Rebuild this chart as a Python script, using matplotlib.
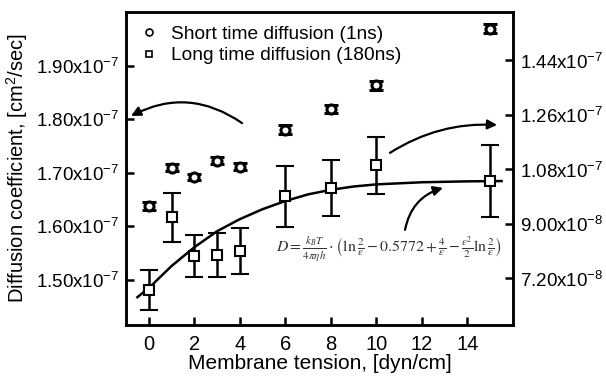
import matplotlib
matplotlib.use('Agg')
import matplotlib.pyplot as plt
from matplotlib.lines import Line2D
from matplotlib.ticker import FixedLocator, FixedFormatter

plt.rcParams['font.family'] = ['Liberation Sans', 'DejaVu Sans']
plt.rcParams['mathtext.fontset'] = 'custom'
plt.rcParams['mathtext.rm'] = 'Liberation Sans'

# short time diffusion (1ns), left axis, cm^2/sec
tension_short = [0, 1, 2, 3, 4, 6, 8, 10, 15]
d_short = [1.637e-7, 1.709e-7, 1.692e-7, 1.722e-7, 1.711e-7, 1.780e-7, 1.819e-7, 1.863e-7, 1.969e-7]
d_short_err = [0.007e-7, 0.007e-7, 0.006e-7, 0.007e-7, 0.006e-7, 0.008e-7, 0.008e-7, 0.008e-7, 0.009e-7]

# long time diffusion (180ns), right axis
tension_long = [0, 1, 2, 3, 4, 6, 8, 10, 15]
d_long = [0.680e-7, 0.921e-7, 0.793e-7, 0.796e-7, 0.809e-7, 0.991e-7, 1.017e-7, 1.093e-7, 1.040e-7]
d_long_err = [0.067e-7, 0.080e-7, 0.070e-7, 0.073e-7, 0.076e-7, 0.101e-7, 0.093e-7, 0.094e-7, 0.119e-7]

# fitted curve (right axis)
fit_x = [-0.5, 0, 1, 2, 3, 4, 5, 6, 7, 8, 9, 10, 12, 14, 15.5]
fit_y = [0.657e-7, 0.687e-7, 0.760e-7, 0.822e-7, 0.875e-7, 0.915e-7, 0.948e-7, 0.975e-7,
         0.997e-7, 1.012e-7, 1.023e-7, 1.030e-7, 1.037e-7, 1.040e-7, 1.041e-7]

x_ticks = [0, 2, 4, 6, 8, 10, 12, 14]
left_ticks = [1.50e-7, 1.60e-7, 1.70e-7, 1.80e-7, 1.90e-7]
left_labels = ['1.50x10$^{-7}$', '1.60x10$^{-7}$', '1.70x10$^{-7}$', '1.80x10$^{-7}$', '1.90x10$^{-7}$']
right_ticks = [0.72e-7, 0.90e-7, 1.08e-7, 1.26e-7, 1.44e-7]
right_labels = ['7.20x10$^{-8}$', '9.00x10$^{-8}$', '1.08x10$^{-7}$', '1.26x10$^{-7}$', '1.44x10$^{-7}$']

fig = plt.figure(figsize=(6.06, 3.8), dpi=100)
ax = fig.add_axes([126 / 606, 1 - 325 / 380, 387 / 606, 313 / 380])
ax2 = ax.twinx()

ax.errorbar(tension_short, d_short, yerr=d_short_err, fmt='o', ms=6.5, mfc='white', mec='black',
            mew=2.2, ecolor='black', elinewidth=1.8, capsize=5, capthick=2, zorder=3)
ax2.errorbar(tension_long, d_long, yerr=d_long_err, fmt='s', ms=7, mfc='white', mec='black',
             mew=1.5, ecolor='black', elinewidth=1.8, capsize=6.5, capthick=1.8, zorder=3)
ax2.plot(fit_x, fit_y, color='black', lw=1.8, zorder=2)

ax.set_xlim(-1, 16)
ax.set_ylim(1.415e-7, 2.0e-7)
ax2.set_ylim(0.565e-7, 1.60e-7)

ax.xaxis.set_major_locator(FixedLocator(x_ticks))
ax.yaxis.set_major_locator(FixedLocator(left_ticks))
ax.yaxis.set_major_formatter(FixedFormatter(left_labels))
ax2.yaxis.set_major_locator(FixedLocator(right_ticks))
ax2.yaxis.set_major_formatter(FixedFormatter(right_labels))

for a in (ax, ax2):
    for s in a.spines.values():
        s.set_linewidth(1.8)
    a.tick_params(direction='in', length=6, width=1.8, labelsize=13.5, pad=5)
ax.tick_params(axis='x', labelsize=14.5, pad=7)
ax.tick_params(top=False)

ax.set_xlabel('Membrane tension, [dyn/cm]', fontsize=15, labelpad=0)
ax.set_ylabel('Diffusion coefficient, [cm$^2$/sec]', fontsize=14.5, labelpad=4)

handles = [Line2D([], [], ls='none', marker='o', ms=5, mfc='white', mec='black', mew=1.2),
           Line2D([], [], ls='none', marker='s', ms=5, mfc='white', mec='black', mew=1.2)]
ax.legend(handles, ['Short time diffusion (1ns)', 'Long time diffusion (180ns)'],
          loc='upper left', bbox_to_anchor=(-0.005, 1.0), frameon=False, fontsize=13.8,
          handletextpad=0.55, handlelength=1.2, labelspacing=0.22, borderaxespad=0.3)

ax.text(0.68, 0.24,
        r'$D=\frac{k_B T}{4\pi\eta h}\cdot\left(\ln\frac{2}{\varepsilon}-0.5772+\frac{4}{\varepsilon}'
        r'-\frac{\varepsilon^2}{2}\ln\frac{2}{\varepsilon}\right)$',
        transform=ax.transAxes, ha='center', va='center', fontsize=11.3, color='#333333',
        math_fontfamily='stix')

arrow = dict(arrowstyle='-|>', color='black', lw=1.6, mutation_scale=14, shrinkA=0, shrinkB=0)
ax.annotate('', xy=(0.013, 0.668), xytext=(0.300, 0.645), xycoords='axes fraction',
            arrowprops=dict(arrow, connectionstyle='arc3,rad=0.3'))
ax.annotate('', xy=(0.959, 0.639), xytext=(0.682, 0.550), xycoords='axes fraction',
            arrowprops=dict(arrow, connectionstyle='arc3,rad=-0.16'))
ax.annotate('', xy=(0.819, 0.438), xytext=(0.721, 0.304), xycoords='axes fraction',
            arrowprops=dict(arrow, connectionstyle='arc3,rad=-0.3'))

fig.savefig('out.png', dpi=100)
